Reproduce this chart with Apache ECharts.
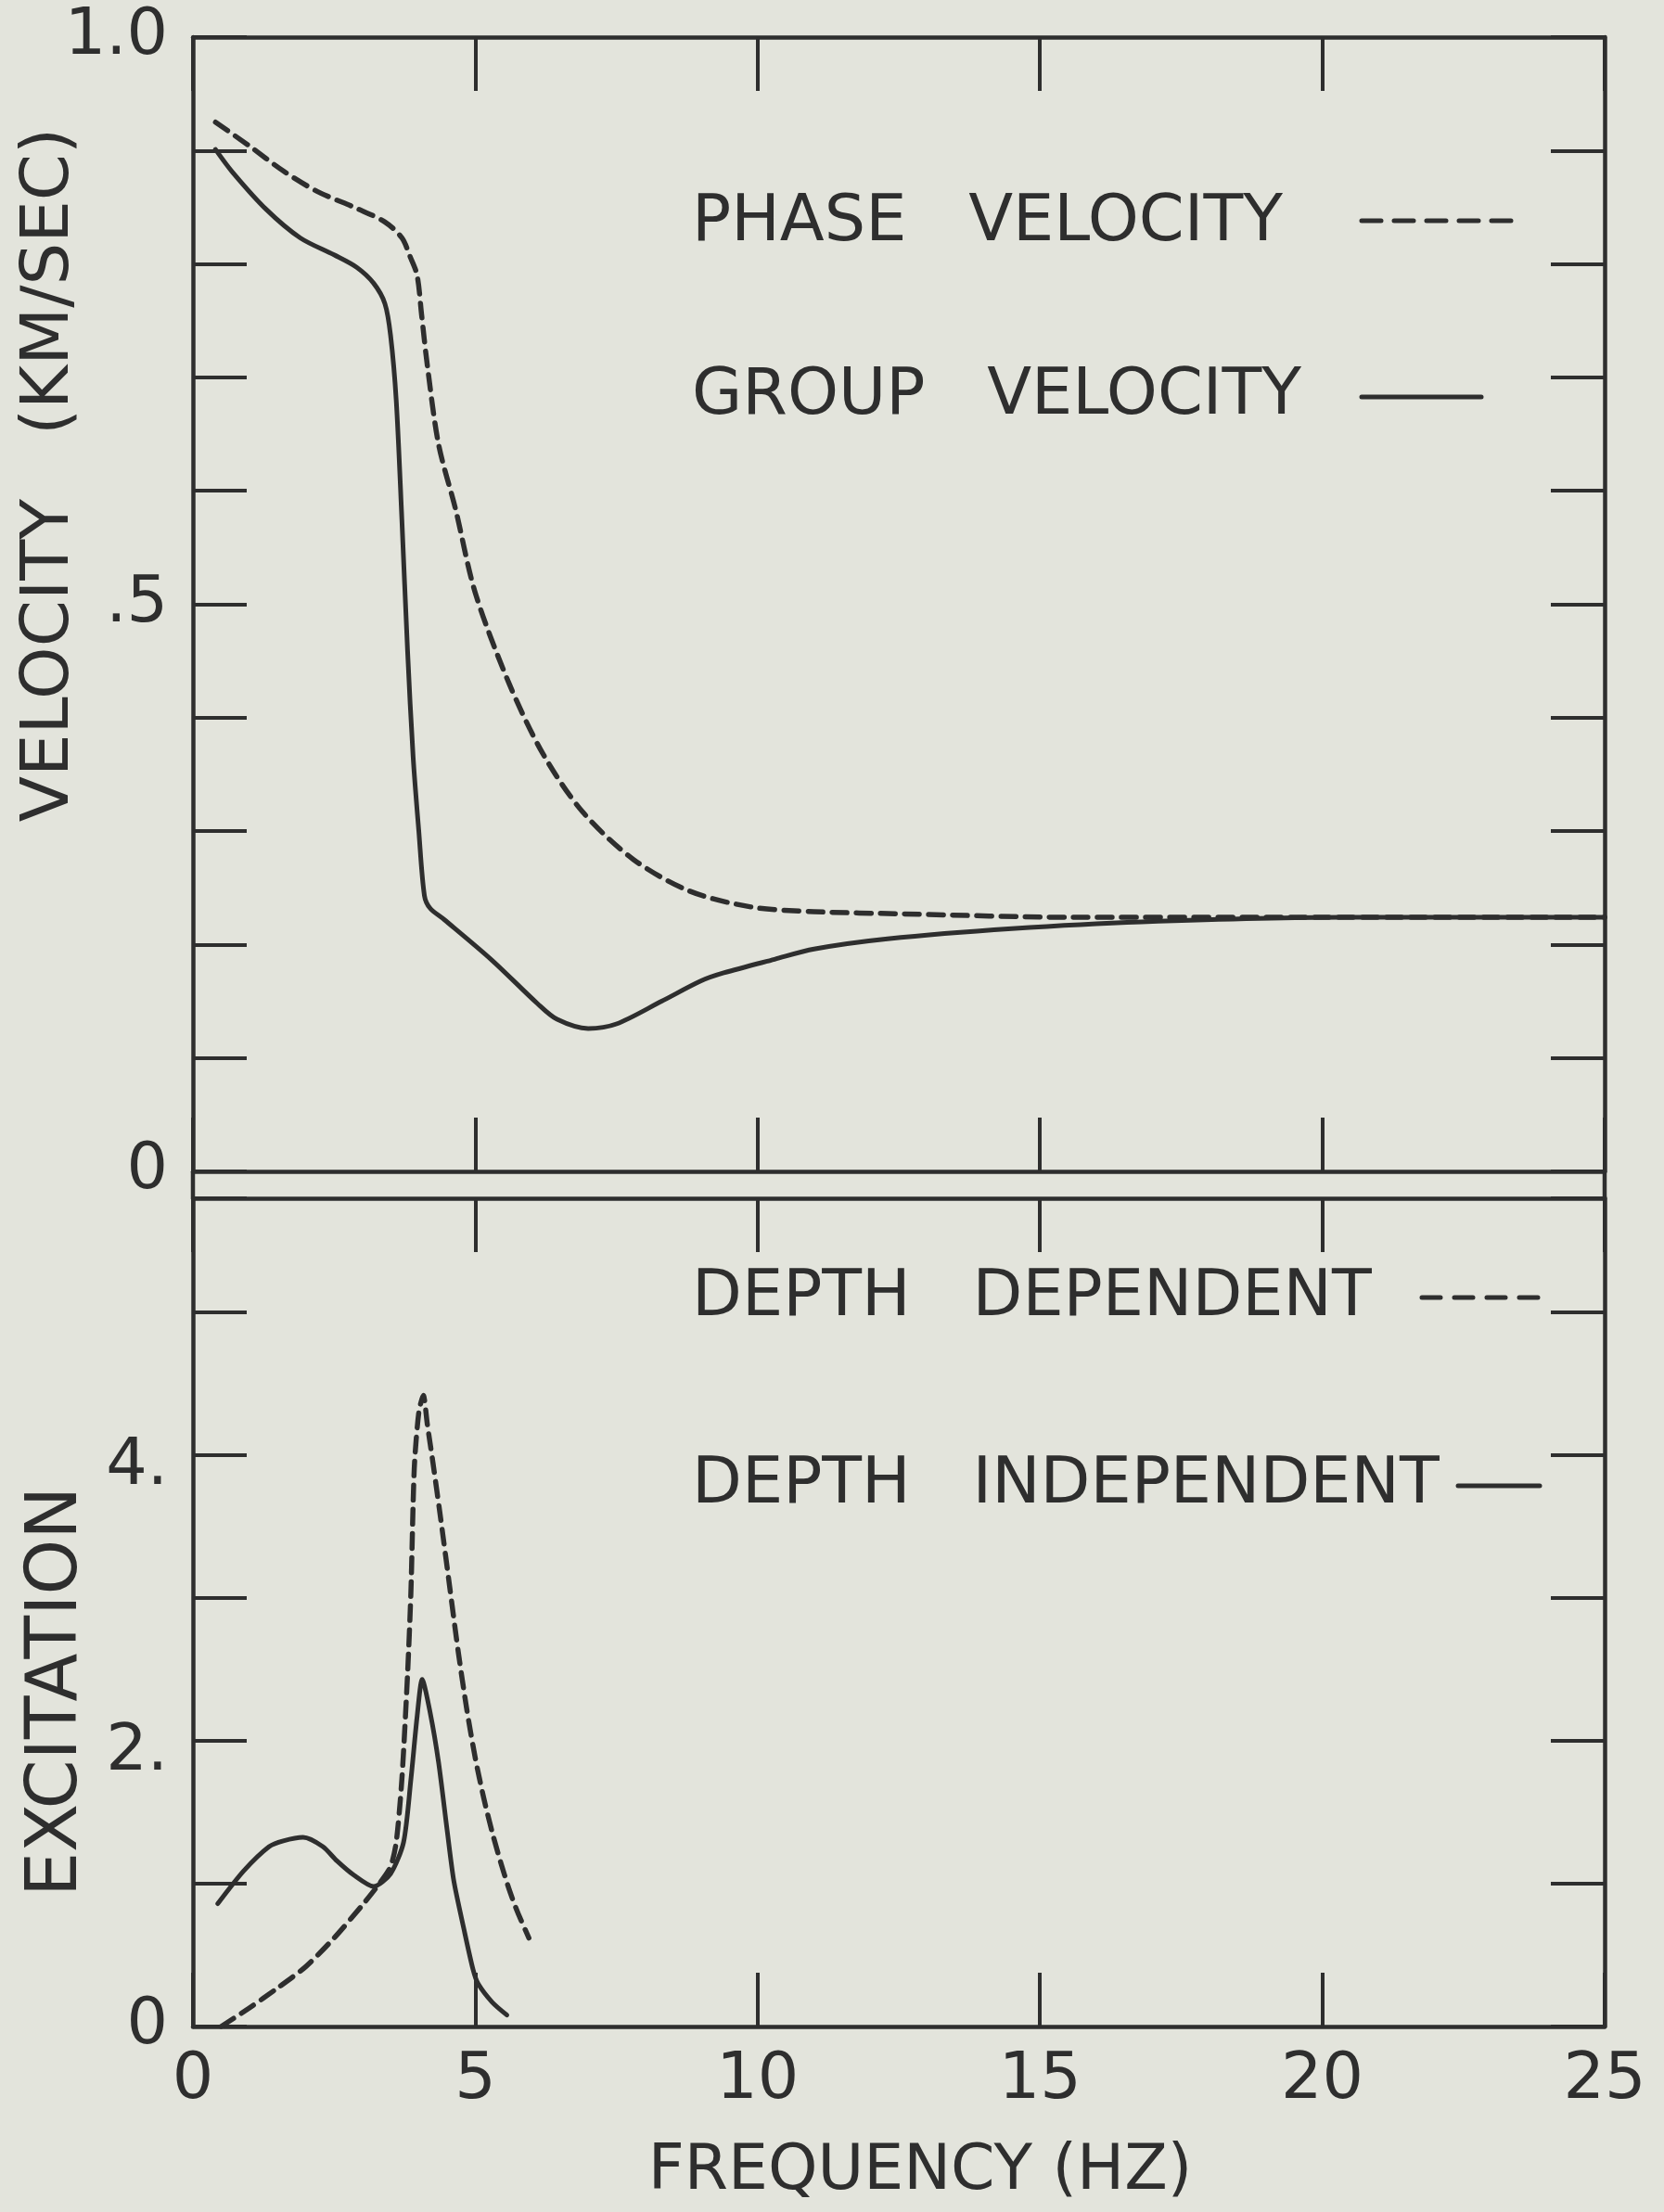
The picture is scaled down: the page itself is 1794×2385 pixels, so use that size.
<!DOCTYPE html>
<html>
<head>
<meta charset="utf-8">
<script src="https://cdn.jsdelivr.net/npm/echarts@6/dist/echarts.min.js"></script>
<style>
  html, body { margin: 0; padding: 0; background: #e3e4dc; }
  #chart { width: 1794px; height: 2385px; }
</style>
</head>
<body>
<div id="chart"></div>
<script>
// values: frequency in Hz
const phaseFreq = [0.4, 1.0, 1.6, 2.2, 2.9, 3.4, 3.7, 3.85, 3.97, 4.05, 4.15, 4.35, 4.65, 5.0, 5.6, 6.2, 6.9, 7.8, 8.8, 9.9, 11.0, 12.6, 15.6, 20.0, 25.0]
const phaseVel = [0.925, 0.904, 0.882, 0.864, 0.849, 0.837, 0.823, 0.806, 0.79, 0.755, 0.711, 0.641, 0.584, 0.51, 0.43, 0.368, 0.317, 0.275, 0.247, 0.233, 0.229, 0.227, 0.224, 0.224, 0.224]

const groupFreq = [0.4, 0.7, 1.3, 1.9, 2.5, 2.9, 3.2, 3.4, 3.5, 3.6, 3.7, 3.8, 3.9, 4.0, 4.1, 4.2, 4.45, 5.3, 6.1, 6.45, 7.0, 7.5, 8.3, 9.0, 9.4, 10.3, 11.0, 12.3, 14.5, 16.8, 20.4, 25.0]
const groupVel = [0.901, 0.881, 0.848, 0.823, 0.808, 0.797, 0.783, 0.765, 0.737, 0.68, 0.575, 0.46, 0.365, 0.30, 0.243, 0.232, 0.222, 0.186, 0.148, 0.134, 0.126, 0.130, 0.150, 0.168, 0.175, 0.187, 0.196, 0.205, 0.214, 0.220, 0.224, 0.224]

const depDepFreq = [0.5, 1.0, 1.5, 2.0, 2.5, 3.0, 3.3, 3.5, 3.6, 3.7, 3.8, 3.86, 3.92, 4.0, 4.08, 4.15, 4.25, 4.4, 4.55, 4.7, 4.85, 5.0, 5.15, 5.3, 5.45, 5.6, 5.75, 5.95]
const depDepExc = [0, 0.13, 0.27, 0.42, 0.62, 0.85, 1.0, 1.12, 1.29, 1.73, 2.46, 3.04, 3.91, 4.3, 4.42, 4.22, 3.95, 3.52, 3.07, 2.62, 2.22, 1.88, 1.6, 1.36, 1.15, 0.96, 0.8, 0.62]

const depIndFreq = [0.44, 0.9, 1.35, 1.6, 1.95, 2.3, 2.55, 2.85, 3.2, 3.5, 3.73, 3.86, 3.97, 4.06, 4.2, 4.35, 4.5, 4.62, 4.8, 4.96, 5.05, 5.3, 5.56]
const depIndExc = [0.86, 1.09, 1.26, 1.30, 1.325, 1.26, 1.16, 1.06, 0.98, 1.07, 1.29, 1.73, 2.17, 2.43, 2.2, 1.85, 1.38, 1.02, 0.68, 0.40, 0.30, 0.17, 0.08]

// tick labels
const velTickLabels = [[0, '0'], [0.5, '.5'], [1, '1.0']]
const excTickLabels = [[0, '0'], [2, '{d|2.}'], [4, '{d|4.}']]

const INK = '#2e2e2e'
const FONT = 'DejaVu Sans'

const zip = (xs, ys) => xs.map((x, i) => [x, ys[i]])
const pickLabel = (list) => (v) => {
	const hit = list.find((p) => Math.abs(p[0] - v) < 1e-6)
	return hit ? hit[1] : ''
}

const axisLine = { show: true, onZero: false, lineStyle: { color: INK, width: 4.5 } }
const axisTick = { show: true, inside: true, length: 58, lineStyle: { color: INK, width: 4 } }

const xAxisFor = (gridIndex, position, showLabel) => ({
	type: 'value',
	gridIndex,
	position,
	min: 0,
	max: 25,
	interval: 5,
	axisLine,
	axisTick,
	splitLine: { show: false },
	axisLabel: { show: showLabel, margin: 24, color: INK, fontFamily: FONT, fontSize: 70 }
})

const yAxisFor = (gridIndex, position, max, interval, labels) => ({
	type: 'value',
	gridIndex,
	position,
	min: 0,
	max,
	interval,
	axisLine,
	axisTick,
	splitLine: { show: false },
	axisLabel: {
		show: !!labels,
		margin: 27,
		color: INK,
		fontFamily: FONT,
		fontSize: 70,
		formatter: labels ? pickLabel(labels) : '',
		// "2." and "4." sit a little below their ticks
		rich: { d: { color: INK, fontFamily: FONT, fontSize: 70, padding: [26, 0, 0, 0] } }
	}
})

const lineSeries = (name, data, xi, yi, dashed, smooth) => ({
	name,
	type: 'line',
	xAxisIndex: xi,
	yAxisIndex: yi,
	data,
	symbol: 'none',
	smooth,
	lineStyle: {
		color: INK,
		width: dashed ? 5.5 : 5,
		type: dashed ? [16, 10] : 'solid',
		cap: 'round',
		join: 'round'
	}
})

// legend rows: label, text centre y, sample line
const legendRows = [
	{ text: 'PHASE   VELOCITY', y: 241, x1: 1468, x2: 1632, ly: 238, dash: [21, 14] },
	{ text: 'GROUP   VELOCITY', y: 428, x1: 1468, x2: 1597, ly: 428, dash: null },
	{ text: 'DEPTH   DEPENDENT', y: 1400, x1: 1533, x2: 1660, ly: 1399, dash: [20, 15] },
	{ text: 'DEPTH   INDEPENDENT', y: 1602, x1: 1572, x2: 1660, ly: 1602, dash: null }
]

const graphics = []
legendRows.forEach((r) => {
	graphics.push({
		type: 'text', x: 746, y: r.y,
		style: { text: r.text, fill: INK, fontFamily: FONT, fontSize: 70, align: 'left', verticalAlign: 'middle' }
	})
	graphics.push({
		type: 'line',
		shape: { x1: r.x1, y1: r.ly, x2: r.x2, y2: r.ly },
		style: { stroke: INK, lineWidth: 5, lineDash: r.dash, lineCap: 'round' }
	})
})

// axis titles
graphics.push({
	type: 'text', x: 54, y: 512, rotation: Math.PI / 2,
	style: { text: 'VELOCITY   (KM/SEC)', fill: INK, fontFamily: FONT, fontSize: 72, align: 'center', verticalAlign: 'middle' }
})
graphics.push({
	type: 'text', x: 62, y: 1824, rotation: Math.PI / 2,
	style: { text: 'EXCITATION', fill: INK, fontFamily: FONT, fontSize: 76, align: 'center', verticalAlign: 'middle' }
})
graphics.push({
	type: 'text', x: 992, y: 2342,
	style: { text: 'FREQUENCY (HZ)', fill: INK, fontFamily: FONT, fontSize: 68, align: 'center', verticalAlign: 'middle' }
})

// frame pieces joining the two panels
;[208, 1730].forEach((x) => {
	graphics.push({
		type: 'line',
		shape: { x1: x, y1: 1263, x2: x, y2: 1292 },
		style: { stroke: INK, lineWidth: 4.5 }
	})
})

const chart = echarts.init(document.getElementById('chart'))
chart.setOption({
	backgroundColor: '#e3e4dc',
	animation: false,
	grid: [
		{ left: 208, right: 64, top: 40, height: 1223 },
		{ left: 208, right: 64, top: 1292, height: 893 }
	],
	xAxis: [
		xAxisFor(0, 'bottom', false),
		xAxisFor(0, 'top', false),
		xAxisFor(1, 'bottom', true),
		xAxisFor(1, 'top', false)
	],
	yAxis: [
		yAxisFor(0, 'left', 1, 0.1, velTickLabels),
		yAxisFor(0, 'right', 1, 0.1, null),
		yAxisFor(1, 'left', 5.8, 1, excTickLabels),
		yAxisFor(1, 'right', 5.8, 1, null)
	],
	series: [
		lineSeries('PHASE VELOCITY', zip(phaseFreq, phaseVel), 0, 0, true, 0.3),
		lineSeries('GROUP VELOCITY', zip(groupFreq, groupVel), 0, 0, false, 0.3),
		lineSeries('DEPTH DEPENDENT', zip(depDepFreq, depDepExc), 2, 2, true, 0.25),
		lineSeries('DEPTH INDEPENDENT', zip(depIndFreq, depIndExc), 2, 2, false, 0.25)
	],
	graphic: graphics
})
</script>
</body>
</html>
